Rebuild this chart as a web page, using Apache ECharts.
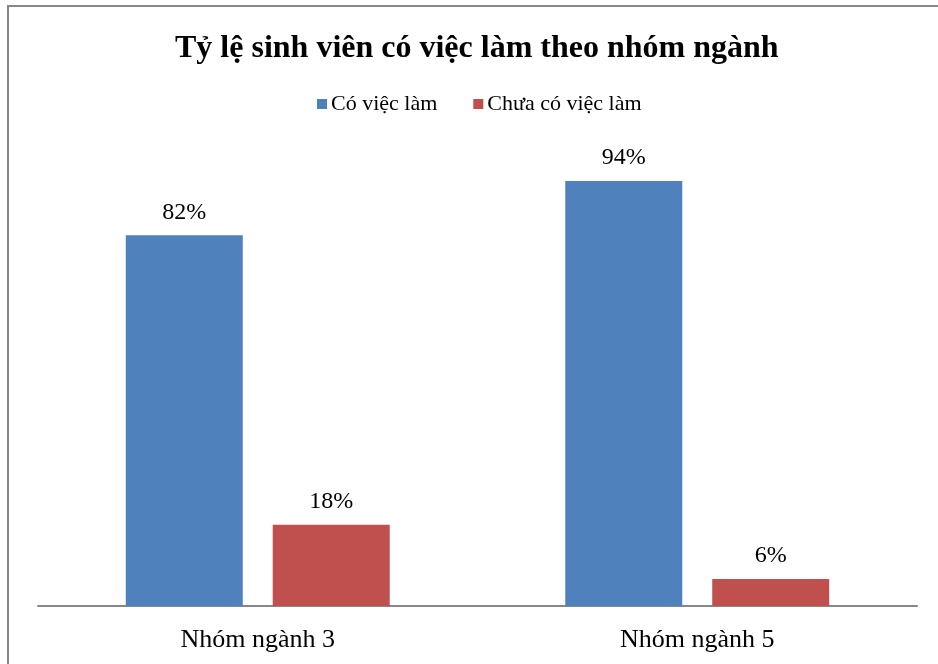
<!DOCTYPE html>
<html>
<head>
<meta charset="utf-8">
<script src="https://cdn.jsdelivr.net/npm/echarts@6/dist/echarts.min.js"></script>
<style>
html,body{margin:0;padding:0;background:#fff;}
#chart{width:938px;height:664px;}
</style>
</head>
<body>
<div id="chart"></div>
<script>
var categories=['Nhóm ngành 3','Nhóm ngành 5'];
var seriesNames=['Có việc làm','Chưa có việc làm'];
var coViecLam=[82,94];
var chuaCoViecLam=[18,6];
var colors=['#4F81BD','#C0504D'];

var myChart=echarts.init(document.getElementById('chart'));
var serif='"Liberation Serif","Times New Roman",serif';
var option={
	backgroundColor:'#fff',
	textStyle:{fontFamily:serif},
	//khung viền quanh biểu đồ
	graphic:[{
		type:'rect',
		shape:{x:8,y:6,width:960,height:700},
		style:{fill:'none',stroke:'#878787',lineWidth:2},
		silent:true
	}],
	title:{
		text:'Tỷ lệ sinh viên có việc làm theo nhóm ngành',
		left:170,
		top:28,
		textStyle:{fontFamily:serif,fontWeight:'bold',fontSize:32,color:'#000'}
	},
	legend:{
		data:seriesNames,
		top:88,
		left:312,
		itemWidth:10,
		itemHeight:10,
		itemGap:36,
		icon:'rect',
		textStyle:{fontFamily:serif,fontSize:22,color:'#000',padding:[0,0,0,-1]}
	},
	grid:{left:38,right:21,top:154,bottom:58,containLabel:false},
	xAxis:[{
		type:'category',
		data:categories,
		axisLine:{lineStyle:{color:'#878787',width:2}},
		axisTick:{show:false},
		axisLabel:{fontFamily:serif,fontSize:26,color:'#000',margin:21}
	}],
	yAxis:[{
		type:'value',
		min:0,
		max:100,
		show:false
	}],
	series:[{
		name:seriesNames[0],
		type:'bar',
		data:coViecLam,
		barWidth:117,
		barGap:'25.6%',
		itemStyle:{color:colors[0]},
		label:{show:true,position:'top',distance:11,formatter:'{c}%',fontFamily:serif,fontSize:24,color:'#000'}
	},{
		name:seriesNames[1],
		type:'bar',
		data:chuaCoViecLam,
		barWidth:117,
		itemStyle:{color:colors[1]},
		label:{show:true,position:'top',distance:11,formatter:'{c}%',fontFamily:serif,fontSize:24,color:'#000'}
	}]
};
myChart.setOption(option);
</script>
</body>
</html>
